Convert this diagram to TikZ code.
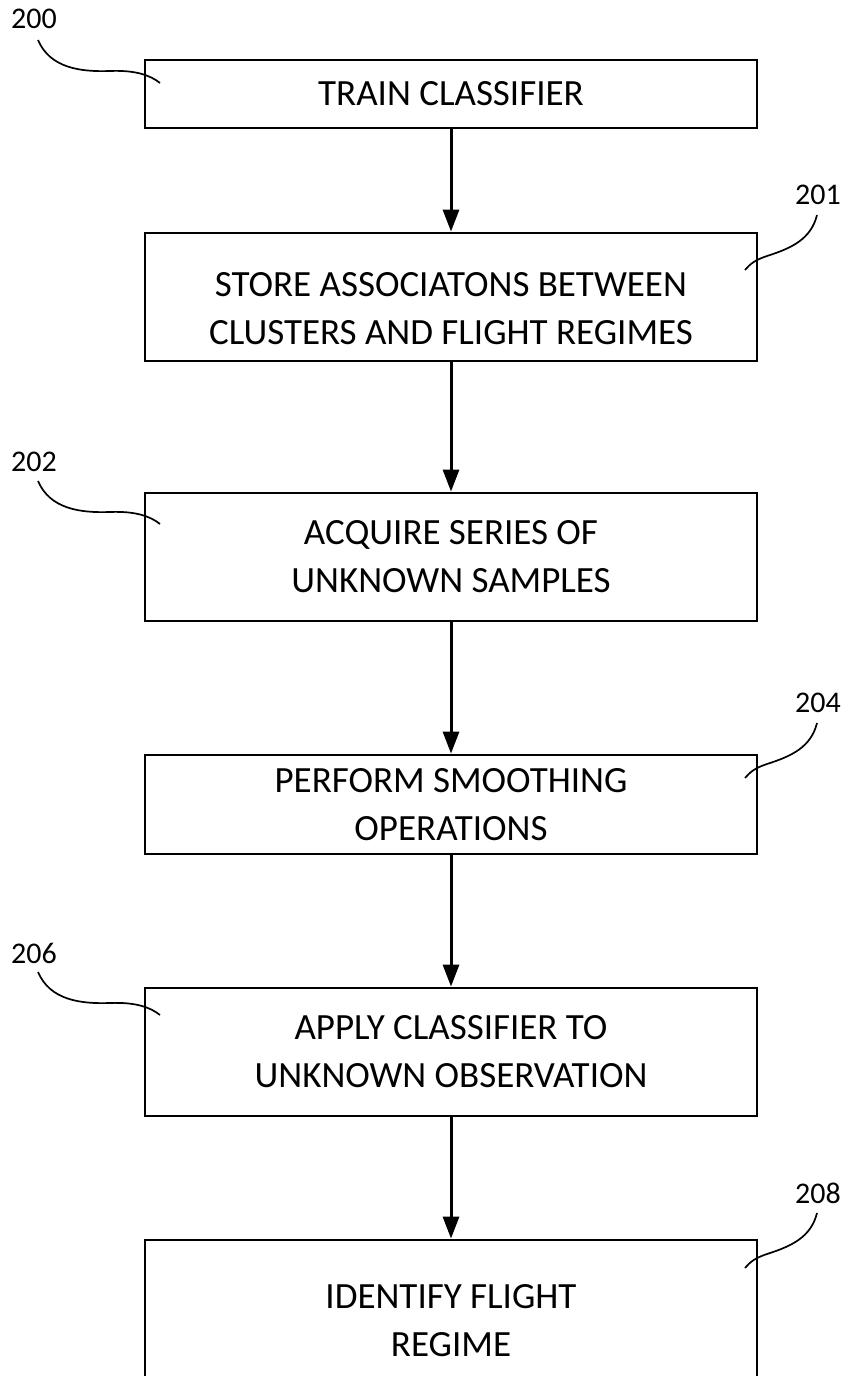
\documentclass[tikz,border=0pt]{standalone}
\usepackage{fontspec}
\setmainfont{Carlito}
\usetikzlibrary{arrows.meta}
\begin{document}
\begin{tikzpicture}[x=1pt,y=-1pt,
  box/.style={draw, line width=2.8pt, minimum width=612pt, align=center,
    font=\fontsize{37}{48}\selectfont, inner sep=0pt},
  txt/.style={align=center, font=\fontsize{37}{48}\selectfont, inner sep=0pt},
  flow/.style={line width=3pt, -{Triangle[length=22pt,width=16pt]}},
  lbl/.style={font=\fontsize{30}{32}\selectfont, inner sep=0pt},
  lead/.style={line width=1.7pt}]
\useasboundingbox (0,0) rectangle (848,1376);
% boxes
\node[box, minimum height=68pt]  (b200) at (451,94)    {TRAIN CLASSIFIER};
\node[box, minimum height=128pt] (b201) at (451,297)   {};
\node[txt] (t201) at (451,309) {STORE ASSOCIATONS BETWEEN\\CLUSTERS AND FLIGHT REGIMES};
\node[box, minimum height=128pt] (b202) at (451,557)   {ACQUIRE SERIES OF\\UNKNOWN SAMPLES};
\node[box, minimum height=99pt]  (b204) at (451,804.5) {PERFORM SMOOTHING\\OPERATIONS};
\node[box, minimum height=128pt] (b206) at (451,1052)  {APPLY CLASSIFIER TO\\UNKNOWN OBSERVATION};
\node[box, minimum height=260pt] (b208) at (451,1370)  {};
\node[txt] (t208) at (451,1321) {IDENTIFY FLIGHT\\REGIME};
% arrows
\draw[flow] (b200) -- (b201);
\draw[flow] (b201) -- (b202);
\draw[flow] (b202) -- (b204);
\draw[flow] (b204) -- (b206);
\draw[flow] (b206) -- (b208);
% reference labels
\node[lbl] (l200) at (34,19)   {200};
\node[lbl] (l202) at (34,462)  {202};
\node[lbl] (l206) at (34,953)  {206};
\node[lbl] (l201) at (818,195) {201};
\node[lbl] (l204) at (818,703) {204};
\node[lbl] (l208) at (818,1193) {208};
% leader ends
\coordinate (s200) at (38,40);   \coordinate (e200) at (160,83);
\coordinate (s202) at (38,481);  \coordinate (e202) at (160,524);
\coordinate (s206) at (38,972);  \coordinate (e206) at (160,1015);
\coordinate (s201) at (817,215); \coordinate (e201) at (745,270);
\coordinate (s204) at (817,723); \coordinate (e204) at (745,778);
\coordinate (s208) at (817,1213); \coordinate (e208) at (745,1268);
% left leaders
\draw[lead] (s200) .. controls ++(12,28) and ++(-30,1) .. ++(72,31) .. controls ++(25,-1) and ++(-10,-8) .. (e200);
\draw[lead] (s202) .. controls ++(12,28) and ++(-30,1) .. ++(72,31) .. controls ++(25,-1) and ++(-10,-8) .. (e202);
\draw[lead] (s206) .. controls ++(12,28) and ++(-30,1) .. ++(72,31) .. controls ++(25,-1) and ++(-10,-8) .. (e206);
% right leaders
\draw[lead] (s201) .. controls ++(-6,24) and ++(25,-8) .. ++(-50,41) .. controls ++(-12,4) and ++(5,-6) .. (e201);
\draw[lead] (s204) .. controls ++(-6,24) and ++(25,-8) .. ++(-50,41) .. controls ++(-12,4) and ++(5,-6) .. (e204);
\draw[lead] (s208) .. controls ++(-6,24) and ++(25,-8) .. ++(-50,41) .. controls ++(-12,4) and ++(5,-6) .. (e208);
\end{tikzpicture}
\end{document}
